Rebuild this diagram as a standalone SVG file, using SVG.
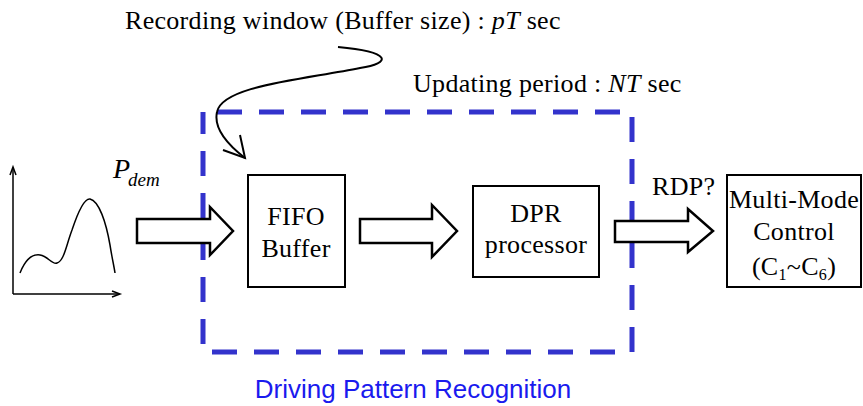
<svg xmlns="http://www.w3.org/2000/svg" width="863" height="406" viewBox="0 0 863 406">
<style>
.t{font-family:"Liberation Serif","Times New Roman",serif;font-size:26px;fill:#000;letter-spacing:0.3px}
.box{fill:#fff;stroke:#000;stroke-width:2}
.blk{fill:#fff;stroke:#000;stroke-width:2.5;stroke-linejoin:miter}
.thin{fill:none;stroke:#000;stroke-width:1.5}
</style>
<rect width="863" height="406" fill="#fff"/>
<g id="graph">
<polyline class="thin" points="13,294 13,168" stroke="#444"/>
<polyline class="thin" points="10,175 13,167 16,175"/>
<polyline class="thin" points="13,294 119,294" stroke="#444"/>
<polyline class="thin" points="112,291 120,294 112,297"/>
<path class="thin" d="M20,273 C26,258 33,254 40,255 C48,256 52,265 57,263 C64,261 66,246 72,230 C78,212 84,198 90,199 C99,201 106,222 110,245 C112,258 114,266 115,273"/>
<text id="pdem" x="113" y="178" style="font-family:'Liberation Serif',serif;font-style:italic;font-size:28px">P<tspan x="128" y="186" font-size="19">dem</tspan></text>
</g>
<g id="drp">
<rect x="203" y="112" width="429" height="240" fill="none" stroke="#3333cc" stroke-width="5" stroke-dasharray="25 17" stroke-dashoffset="-14"/>
<text x="413" y="398" text-anchor="middle" style="font-family:'Liberation Sans',Arial,sans-serif;font-size:26px;fill:#1a1aee">Driving Pattern Recognition</text>
</g>
<g id="recording">
<text class="t" x="125" y="29">Recording window (Buffer size) : <tspan font-style="italic">pT</tspan> sec</text>
</g>
<g id="updating">
<text class="t" x="413" y="92">Updating period : <tspan font-style="italic">NT</tspan> sec</text>
</g>
<g id="fifo">
<rect class="box" x="248" y="175" width="97" height="112"/>
<text class="t" x="296" y="225" text-anchor="middle" letter-spacing="1">FIFO</text>
<text class="t" x="296" y="257" text-anchor="middle" letter-spacing="0.8">Buffer</text>
</g>
<g id="dpr">
<rect class="box" x="473" y="186" width="126" height="91"/>
<text class="t" x="536" y="222" text-anchor="middle" letter-spacing="1.2">DPR</text>
<text class="t" x="536" y="253" text-anchor="middle" letter-spacing="1.2">processor</text>
</g>
<g id="mmc">
<rect class="box" x="727" y="175" width="134" height="112"/>
<text class="t" x="794" y="208" text-anchor="middle" letter-spacing="0">Multi-Mode</text>
<text class="t" x="794" y="240" text-anchor="middle">Control</text>
<text class="t" x="794" y="275" text-anchor="middle">(C<tspan font-size="16" dy="5">1</tspan><tspan dy="-5">~C</tspan><tspan font-size="16" dy="5">6</tspan><tspan dy="-5">)</tspan></text>
</g>
<g id="rdp">
<text class="t" x="652" y="195">RDP?</text>
</g>
<g id="connectors">
<polygon class="blk" points="137,219 210,219 210,207 233,231 210,255 210,243 137,243"/>
<polygon class="blk" points="360,219 432,219 432,205 457,231 432,257 432,243 360,243"/>
<polygon class="blk" points="615,221 688,221 688,209 713,231 688,252 688,242 615,242"/>
<path d="M338,47 C392,52 392,63 360,68 C300,80 222,86 217,112 C213,130 232,148 245,158" fill="none" stroke="#000" stroke-width="2"/>
<polyline points="223,150 245,158 240,135" fill="none" stroke="#000" stroke-width="2"/>
</g>
</svg>
